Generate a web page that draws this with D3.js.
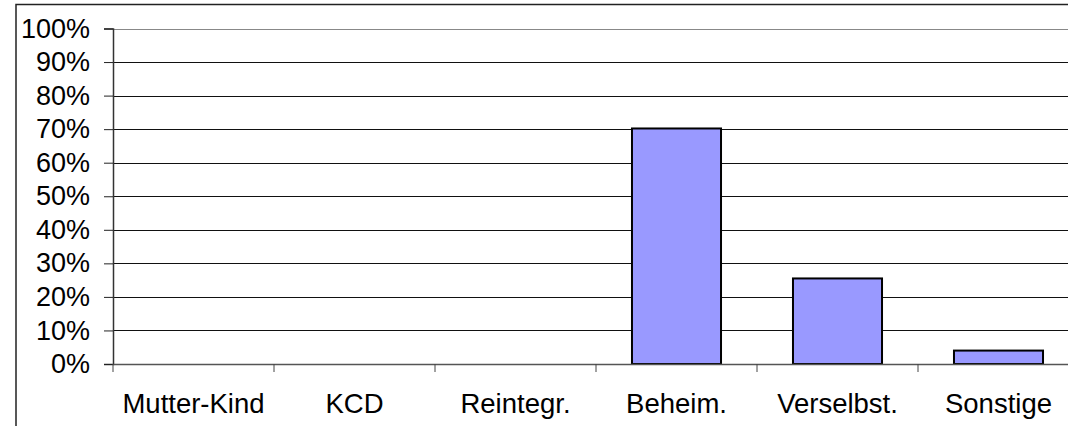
<!DOCTYPE html>
<html lang="en">
<head>
<meta charset="utf-8">
<title>Chart</title>
<script src="https://d3js.org/d3.v7.min.js"></script>
<style>
  body { margin: 0; background: #fff; }
  text { font-family: "Liberation Sans", Arial, sans-serif; fill: #000; }
</style>
</head>
<body>
<script>
// data
var categories = ["Mutter-Kind", "KCD", "Reintegr.", "Beheim.", "Verselbst.", "Sonstige"];
var values = [0, 0, 0, 70.2, 25.5, 4.0];
var yTicks = [0, 10, 20, 30, 40, 50, 60, 70, 80, 90, 100];

var w = 1068, h = 426;
var plotLeft = 113, plotTop = 28.5, plotRight = 1079, plotBottom = 364;

var svg = d3.select("body").append("svg").attr("width", w).attr("height", h);
svg.append("rect").attr("width", w).attr("height", h).attr("fill", "white");

// outer frame (runs off the picture on right and bottom)
svg.append("rect").attr("x", 16).attr("y", 4.5).attr("width", 1200).attr("height", 600)
  .attr("fill", "none").attr("stroke", "#222").attr("stroke-width", 1.5);

var x = d3.scaleBand().domain(categories).range([plotLeft, plotRight]);
var y = d3.scaleLinear().domain([0, 100]).range([plotBottom, plotTop]);

// gridlines
svg.append("g").selectAll("line").data(yTicks.filter(function(d) { return d > 0; })).enter()
  .append("line")
  .attr("x1", plotLeft).attr("x2", plotRight)
  .attr("y1", function(d) { return Math.round(y(d)) + 0.5; })
  .attr("y2", function(d) { return Math.round(y(d)) + 0.5; })
  .attr("stroke", function(d) { return d === 100 ? "#888" : "#111"; })
  .attr("stroke-width", 1);

// bars
var bw = x.bandwidth() * 0.553;
var barData = categories.map(function(c, i) { return { cat: c, v: values[i] }; })
  .filter(function(d) { return d.v > 0; });
svg.append("g").selectAll("rect").data(barData).enter()
  .append("rect")
  .attr("x", function(d) { return x(d.cat) + (x.bandwidth() - bw) / 2; })
  .attr("y", function(d) { return y(d.v); })
  .attr("width", bw)
  .attr("height", function(d) { return plotBottom - y(d.v); })
  .attr("fill", "#9999ff").attr("stroke", "#000").attr("stroke-width", 2);

// y axis
var yAxis = d3.axisLeft(y).tickValues(yTicks).tickSize(9).tickPadding(14)
  .tickFormat(function(d) { return d + "%"; });
svg.append("g").attr("transform", "translate(" + plotLeft + ",0)").call(yAxis)
  .call(function(g) {
    g.selectAll("path").attr("stroke", "#333").attr("stroke-width", 1.5);
    g.selectAll("line").attr("stroke", "#222");
    g.selectAll("text").attr("font-size", 27).attr("font-family", "Liberation Sans, Arial, sans-serif");
  });

// x axis: ticks between categories
var xAxis = d3.axisBottom(x).tickSize(0).tickPadding(29.5);
svg.append("g").attr("transform", "translate(0," + plotBottom + ")").call(xAxis)
  .call(function(g) {
    g.select("path").attr("stroke", "#555").attr("stroke-width", 1.5);
    g.selectAll("text").attr("font-size", 27.5).attr("font-family", "Liberation Sans, Arial, sans-serif");
  });
var bounds = categories.map(function(c) { return x(c); }).concat([plotRight]);
svg.append("g").selectAll("line").data(bounds).enter().append("line")
  .attr("x1", function(d) { return d; }).attr("x2", function(d) { return d; })
  .attr("y1", plotBottom).attr("y2", plotBottom + 8)
  .attr("stroke", "#444").attr("stroke-width", 1);
</script>
</body>
</html>
